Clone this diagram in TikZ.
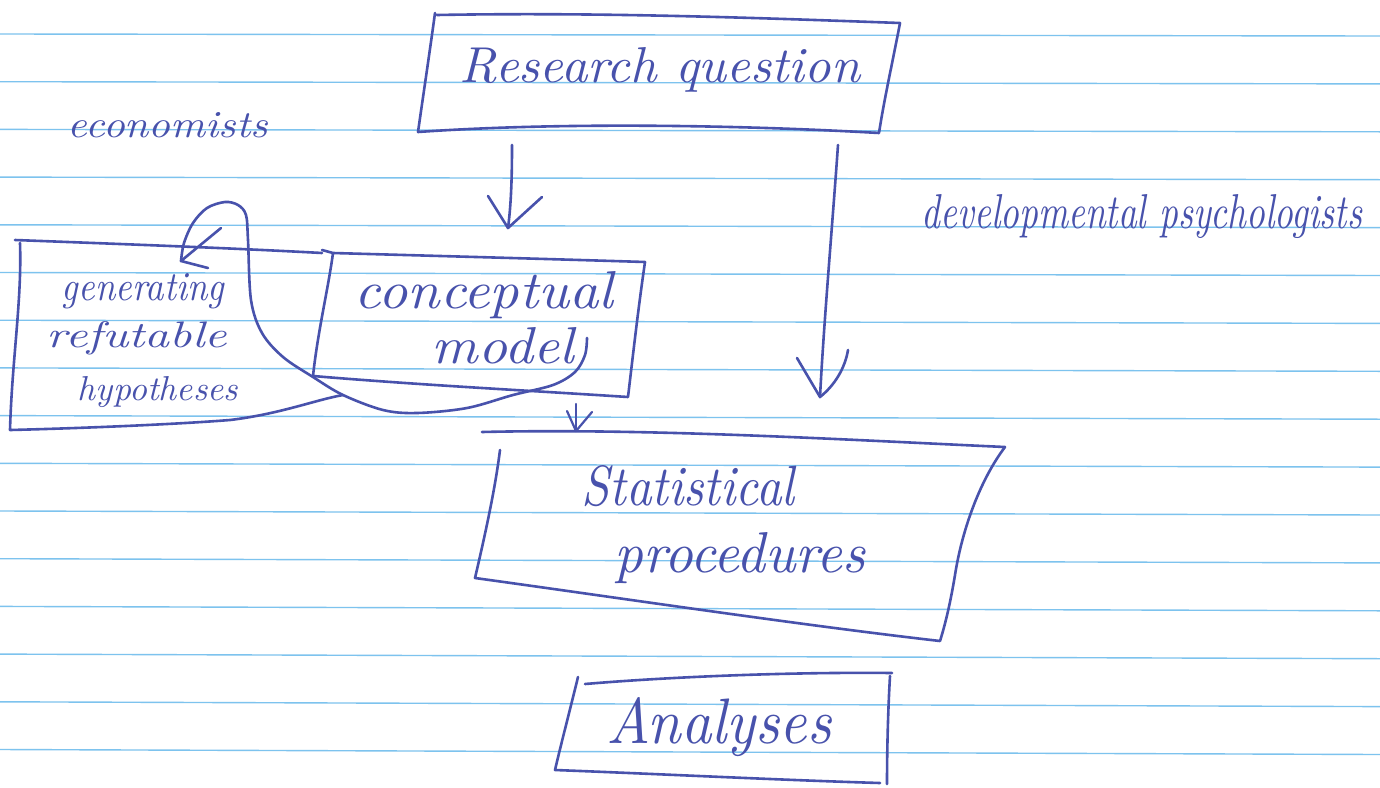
\documentclass[tikz,border=0pt]{standalone}
\usetikzlibrary{calc}
\definecolor{ink}{RGB}{72,82,172}
\definecolor{paperrule}{RGB}{125,195,238}
\newcommand\handtext[3]{\resizebox{#1pt}{#2pt}{\itshape #3}}
\begin{document}
\begin{tikzpicture}[x=1pt,y=-1pt,
  inkline/.style={draw=ink, line width=2.6pt, line cap=round, line join=round},
  thinink/.style={draw=ink, line width=2.2pt, line cap=round, line join=round},
  ruled/.style={draw=paperrule, line width=1.4pt},
  handlabel/.style={text=ink, inner sep=0pt, anchor=base}]
\fill[white] (0,0) rectangle (1380,787);
\useasboundingbox (0,0) rectangle (1380,787);
% ruled paper
\foreach \k in {0,...,15} \draw[ruled] (0,{34+47.7*\k}) -- (1380,{36+47.9*\k});

% ---------- texts ----------
\node[handlabel] (rq) at (660,82) {\handtext{400}{35}{Research question}};
\node[handlabel] (econ) at (168,137) {\handtext{200}{25}{economists}};
\node[handlabel] (devpsy) at (1142,228) {\handtext{440}{34}{developmental psychologists}};
\node[handlabel] (gen1) at (143,300) {\handtext{162}{27}{generating}};
\node[handlabel] (gen2) at (137,347) {\handtext{180}{26}{refutable}};
\node[handlabel] (gen3) at (158,400) {\handtext{160}{24}{hypotheses}};
\node[handlabel] (cm1) at (484,308) {\handtext{258}{37}{conceptual}};
\node[handlabel] (cm2) at (503,363) {\handtext{142}{36}{model}};
\node[handlabel] (sp1) at (688,505) {\handtext{213}{40}{Statistical}};
\node[handlabel] (sp2) at (740,572) {\handtext{250}{40}{procedures}};
\node[handlabel] (an) at (719,743) {\handtext{225}{46}{Analyses}};

% ---------- boxes ----------
% Research question
\draw[inkline] (437,15) .. controls (600,12) and (760,18) .. (900,23)
  .. controls (893,60) and (884,100) .. (879,133)
  .. controls (740,125) and (560,122) .. (418,132)
  .. controls (424,90) and (430,50) .. (435,13);
% conceptual model
\draw[inkline] (322,250) -- (333,253) .. controls (440,256) and (550,259) .. (645,262)
  .. controls (638,310) and (633,355) .. (628,397)
  .. controls (520,390) and (420,385) .. (313,376)
  .. controls (318,330) and (328,290) .. (333,253);
% generating refutable hypotheses
\draw[inkline] (15,240) .. controls (120,244) and (230,248) .. (322,253);
\draw[inkline] (20,243) .. controls (22,300) and (12,360) .. (10,430)
  .. controls (90,428) and (180,424) .. (230,420)
  .. controls (280,414) and (315,400) .. (343,395);
% Statistical procedures
\draw[inkline] (482,432) .. controls (650,428) and (850,440) .. (1005,447)
  .. controls (980,480) and (962,530) .. (955,575)
  .. controls (950,605) and (945,625) .. (940,641)
  .. controls (800,625) and (620,598) .. (475,578)
  .. controls (485,535) and (495,490) .. (500,450);
% Analyses
\draw[inkline] (585,684) .. controls (680,676) and (800,672) .. (892,673);
\draw[inkline] (578,677) .. controls (570,710) and (562,740) .. (555,770)
  .. controls (660,774) and (780,780) .. (880,783);
\draw[inkline] (890,676) .. controls (888,710) and (887,750) .. (887,784);

% ---------- connectors ----------
\coordinate (a1s) at (512,145);
\coordinate (a1t) at (508,228);
\draw[inkline] (a1s) .. controls (512,180) and (511,205) .. (a1t);
\draw[inkline] (488,196) -- (a1t) -- (542,197);

\coordinate (a2s) at (838,145);
\coordinate (a2t) at (820,397);
\draw[inkline] (a2s) .. controls (832,230) and (824,320) .. (a2t);
\draw[inkline] (797,358) -- (a2t) .. controls (835,385) and (845,368) .. (848,350);

\coordinate (a3s) at (576,404);
\coordinate (a3t) at (576,431);
\draw[thinink] (a3s) -- (a3t);
\draw[thinink] (567,411) -- (a3t) -- (592,412);

% feedback loop from conceptual model to hypotheses
\coordinate (ls) at (587,338);
\coordinate (lt) at (181,261);
\draw[inkline] plot[smooth, tension=0.55] coordinates {(ls) (585,355) (575,372) (553,385) (513,395) (467,408) (417,413) (383,410) (343,395) (313,377) (283,357) (262,333) (251,300) (248,240) (246,215) (238,205) (225,202) (207,208) (193,223) (184,243) (lt)};
\draw[inkline] (221,228) -- (lt) -- (208,268);
\end{tikzpicture}
\end{document}
